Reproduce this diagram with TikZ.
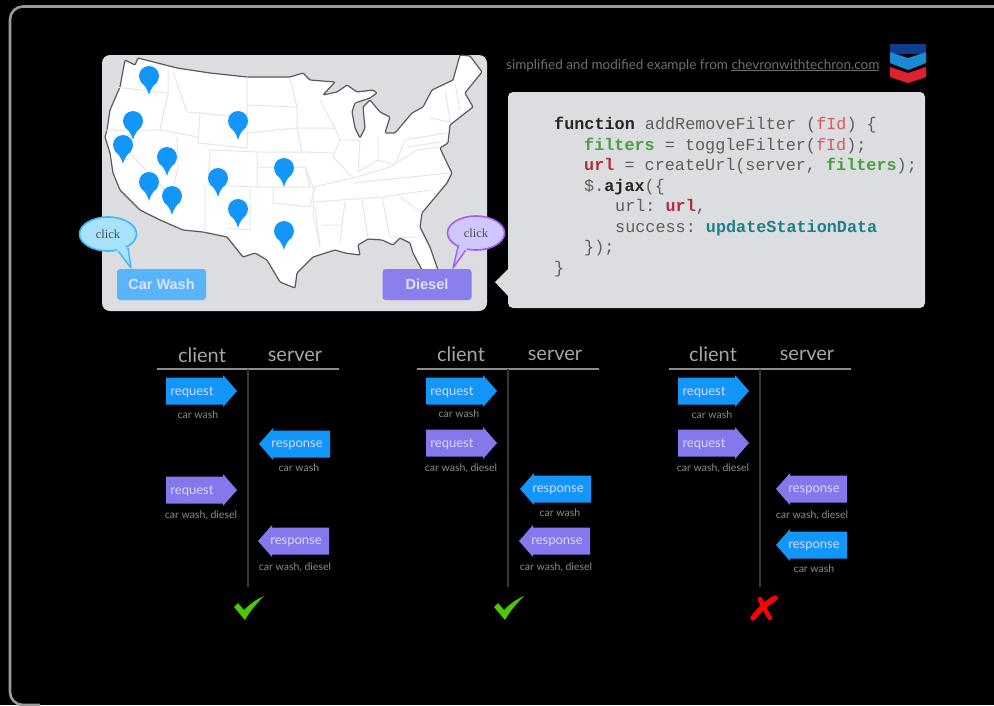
\documentclass[tikz,border=0pt]{standalone}
\usepackage{fontspec}
\setmainfont{Lato}
\setmonofont{Liberation Mono}
\newfontfamily\btnfont{Liberation Sans}
\newfontfamily\clickfont{Liberation Serif}
\usetikzlibrary{shapes.geometric}
\definecolor{panel}{HTML}{DCDDE0}
\definecolor{bluea}{HTML}{1296FA}
\definecolor{purpa}{HTML}{8577EC}
\definecolor{codegray}{HTML}{5E5E5E}
\definecolor{codered}{HTML}{B03038}
\definecolor{codepink}{HTML}{D85A5A}
\definecolor{codegreen}{HTML}{4AA040}
\definecolor{codeteal}{HTML}{1F7F88}
\definecolor{subgray}{HTML}{8C8C8C}
\definecolor{headgray}{HTML}{A6A6A6}
\definecolor{bubL}{HTML}{A8E2FF}
\definecolor{bubLd}{HTML}{3AB8F8}
\definecolor{bubR}{HTML}{CFC8FF}
\definecolor{bubRd}{HTML}{A45CF5}
\definecolor{okgreen}{HTML}{4CC800}
\definecolor{logoblue}{HTML}{1A8AD4}
\definecolor{logonavy}{HTML}{0F3C8C}
\definecolor{logored}{HTML}{E0202F}
\definecolor{stateline}{HTML}{E6E6E6}
\tikzset{
  codeline/.style={anchor=base west,inner sep=0pt,font=\ttfamily\fontsize{16.8}{17}\selectfont,text=codegray},
  subtext/.style={inner sep=0pt,font=\fontsize{10.5}{11}\selectfont,text=subgray},
  head/.style={inner sep=0pt,font=\fontsize{20}{22}\selectfont,text=headgray},
  arrowtext/.style={inner sep=0pt,font=\fontsize{13}{14}\selectfont,text=white!85!blue},
  btn/.style={rounded corners=3pt,minimum height=31pt,minimum width=89pt,inner sep=0pt,text=white!88!blue,font=\btnfont\fontsize{14.5}{16}\selectfont\bfseries},
  bubble/.style={ellipse,minimum width=57pt,minimum height=34pt,inner sep=0pt,line width=1.6pt,font=\clickfont\fontsize{12.5}{13}\selectfont,text=black!70},
  state/.style={draw=stateline,line width=1pt,line join=round},
  rule/.style={draw=headgray!85!black,line width=1.3pt},
  axisline/.style={draw=black!78,line width=1.5pt},
  pin/.style={fill=bluea,draw=none}
}
% request arrow: name, left x, centre y, colour, text
\newcommand{\reqarrow}[5]{%
  \fill[#4] (#2,#3-13.5) -- (#2+57,#3-13.5) -- (#2+57,#3-16) -- (#2+71,#3) -- (#2+57,#3+16) -- (#2+57,#3+13.5) -- (#2,#3+13.5) -- cycle;
  \node[arrowtext] (#1) at (#2+26,#3+1) {#5};}
% response arrow: name, tip x, centre y, colour, text
\newcommand{\resparrow}[5]{%
  \fill[#4] (#2+71,#3-13.5) -- (#2+14,#3-13.5) -- (#2+14,#3-16) -- (#2,#3) -- (#2+14,#3+16) -- (#2+14,#3+13.5) -- (#2+71,#3+13.5) -- cycle;
  \node[arrowtext] (#1) at (#2+38,#3+1) {#5};}
\newcommand{\mapin}[2]{%
  \fill[pin] (#1,#2) circle[radius=10];
  \fill[pin] (#1-8,#2+6) .. controls (#1-4,#2+10) and (#1-2,#2+12) .. (#1,#2+19) .. controls (#1+2,#2+12) and (#1+4,#2+10) .. (#1+8,#2+6) -- cycle;}
\newcommand{\checkmk}[1]{%
  \fill[okgreen] (#1-14,607) -- (#1-10,603) -- (#1-4,610) .. controls (#1+3,603) and (#1+9,599) .. (#1+16,596) .. controls (#1+9,603) and (#1+2,611) .. (#1-3,620) -- cycle;}
\begin{document}
\begin{tikzpicture}[x=1pt,y=-1pt]
\useasboundingbox (0,0) rectangle (994,705);
\fill[black] (0,0) rectangle (994,705);
% outer frame
\begin{scope}
\clip (0,0) rectangle (994,705);
\draw[draw=black!22!white!78!black,line width=2.6pt,rounded corners=13pt] (1010,6.5) -- (10,6.5) -- (10,705) -- (40,705);
\end{scope}

% map panel
\fill[panel,rounded corners=8pt] (102,55) rectangle (487,311);
\draw[fill=white,draw=black!65,line width=1.2pt,line join=round,rounded corners=1pt]
  (125,60) -- (135,65) -- (138,58) -- (177,68) -- (210,73) -- (247,77) -- (290,77) -- (303,73) -- (310,80) -- (335,82) -- (323,95) -- (337,92) -- (347,85) -- (357,92) -- (373,90) -- (377,93) -- (370,98) -- (355,103) -- (352,112) -- (355,128) -- (360,138) -- (365,128) -- (363,107) -- (370,100) -- (380,112) -- (390,117) -- (385,133) -- (395,133) -- (412,113) -- (423,107) -- (432,90) -- (453,80) -- (460,55) -- (470,56) -- (482,72) -- (465,93) -- (473,107) -- (450,125) -- (448,143) -- (440,148) -- (447,163) -- (452,173) -- (447,183) -- (422,213) -- (420,227) -- (430,247) -- (438,270) -- (422,270) -- (413,253) -- (410,243) -- (400,238) -- (393,245) -- (382,240) -- (368,239) -- (358,245) -- (360,255) -- (345,253) -- (335,250) -- (313,257) -- (297,273) -- (295,288) -- (280,282) -- (267,260) -- (255,253) -- (243,257) -- (227,237) -- (203,232) -- (183,230) -- (160,220) -- (140,210) -- (120,190) -- (113,173) -- (110,153) -- (105,137) -- (107,130) -- (110,110) -- (120,87) -- cycle;
% state lines
\draw[state] (115,87) -- (167,93);
\draw[state] (168,70) -- (168,93) -- (160,130) (173,72) -- (187,112) -- (200,113) -- (198,143);
\draw[state] (106,130) -- (160,130) -- (198,137);
\draw[state] (133,130) -- (130,153) -- (170,195) -- (172,213);
\draw[state] (177,137) -- (178,167) -- (172,195);
\draw[state] (198,143) -- (247,148) -- (247,77) (200,113) -- (247,118);
\draw[state] (210,150) -- (208,185) -- (257,187) -- (257,152) -- (210,150);
\draw[state] (205,185) -- (205,232) (250,187) -- (250,230) -- (227,228);
\draw[state] (247,105) -- (297,107) -- (290,78);
\draw[state] (247,133) -- (297,128) -- (302,152) -- (257,152) (257,167) -- (305,167) -- (310,187) -- (257,187);
\draw[state] (273,188) -- (273,203) -- (310,207) -- (315,187) (315,207) -- (320,247);
\draw[state] (297,107) -- (297,128) -- (335,128) -- (320,100);
\draw[state] (335,128) -- (340,140) -- (360,140) (302,152) -- (333,153) (340,140) -- (333,157) -- (353,178) -- (313,187) -- (305,167);
\draw[state] (360,140) -- (358,172) (378,137) -- (378,160) -- (358,172) (378,160) -- (395,165) -- (405,140) -- (447,133) (408,147) -- (440,142);
\draw[state] (353,178) -- (390,167) -- (417,150) -- (440,147);
\draw[state] (445,90) -- (450,120) (455,83) -- (460,110) (430,118) -- (450,122);
\draw[state] (313,187) -- (313,213) -- (320,247) (322,225) -- (340,225);
\draw[state] (353,183) -- (450,173) (313,202) -- (383,197) -- (430,190) (345,202) -- (340,242) (362,200) -- (368,238) (382,197) -- (390,237) -- (415,237) (400,197) -- (422,213);
% pins
\mapin{149}{76}\mapin{133}{121}\mapin{123}{145}\mapin{167}{157}\mapin{149}{182}\mapin{172}{196}\mapin{218}{178}\mapin{238}{209}\mapin{284}{168}\mapin{284}{231}\mapin{238}{121}

% buttons
\node[btn,fill=bluea!70!white] (carwash) at (161.5,284.5) {Car Wash};
\node[btn,fill=purpa!95!white] (diesel) at (427,284.5) {Diesel};

% click bubbles
\coordinate (tailL) at (131,268);
\coordinate (tailR) at (453,268);
\fill[fill=bubL,draw=bubLd,line width=1.4pt,line join=round] (116,248) -- (tailL) -- (128,248) -- cycle;
\fill[fill=bubR,draw=bubRd,line width=1.4pt,line join=round] (458,247) -- (tailR) -- (468,247) -- cycle;
\node[bubble,draw=bubLd,fill=bubL] (clickL) at (108,234) {click};
\node[bubble,draw=bubRd,fill=bubR] (clickR) at (476,233) {click};
\fill[bubL] (117,247) rectangle (127,251);
\fill[bubR] (459,246) rectangle (467,250);

% caption and logo
\node[inner sep=0pt,anchor=base west,text=black!38!white!70!black,font=\fontsize{13.5}{15}\selectfont] (caption) at (506,69) {simplified and modified example from \underline{chevronwithtechron.com}};
\fill[logonavy] (890,44) -- (926,44) -- (926,54) -- (890,54) -- cycle;
\fill[logoblue] (890,52) -- (908,58) -- (926,52) -- (926,63) -- (908,70) -- (890,63) -- cycle;
\fill[logored] (890,67) -- (908,73) -- (926,67) -- (926,77) -- (908,83) -- (890,77) -- cycle;

% code panel
\fill[panel] (509,268) -- (495,282) -- (509,297) -- cycle;
\fill[panel,rounded corners=5pt] (508,92) rectangle (925,308);
\node[codeline] (c1) at (554,129) {\textcolor{black!85}{\bfseries function} addRemoveFilter (\textcolor{codepink}{fId}) \{};
\node[codeline] (c2) at (584,150) {\textcolor{codegreen}{\bfseries filters} = toggleFilter(\textcolor{codepink}{fId});};
\node[codeline] (c3) at (584,170) {\textcolor{codered}{\bfseries url} = createUrl(server, \textcolor{codegreen}{\bfseries filters});};
\node[codeline] (c4) at (584,191) {\$.\textcolor{black!85}{\bfseries ajax}(\{};
\node[codeline] (c5) at (615,211) {url: \textcolor{codered}{\bfseries url},};
\node[codeline] (c6) at (615,232) {success: \textcolor{codeteal}{\bfseries updateStationData}};
\node[codeline] (c7) at (584,252) {\});};
\node[codeline] (c8) at (554,273) {\}};

% column 1
\node[head] (cl1) at (202,355) {client};
\node[head] (sv1) at (295,356) {server};
\draw[rule] (157,369) -- (339,369);
\coordinate (v1a) at (248,369); \coordinate (v1b) at (248,587);
\draw[axisline] (v1a) -- (v1b);
\reqarrow{a1}{166}{391}{bluea}{request}
\node[subtext] (s1) at (198,415) {car wash};
\resparrow{a2}{259}{444}{bluea}{response}
\node[subtext] (s2) at (299,468) {car wash};
\reqarrow{a3}{166}{490}{purpa}{request}
\node[subtext] (s3) at (201,515) {car wash, diesel};
\resparrow{a4}{258}{541}{purpa}{response}
\node[subtext] (s4) at (295,567) {car wash, diesel};
\checkmk{248}

% column 2
\node[head] (cl2) at (461,354) {client};
\node[head] (sv2) at (555,355) {server};
\draw[rule] (417,369) -- (599,369);
\coordinate (v2a) at (508,369); \coordinate (v2b) at (508,587);
\draw[axisline] (v2a) -- (v2b);
\reqarrow{b1}{426}{391}{bluea}{request}
\node[subtext] (t1) at (459,414) {car wash};
\reqarrow{b2}{426}{443}{purpa}{request}
\node[subtext] (t2) at (461,468) {car wash, diesel};
\resparrow{b3}{520}{489}{bluea}{response}
\node[subtext] (t3) at (560,513) {car wash};
\resparrow{b4}{519}{541}{purpa}{response}
\node[subtext] (t4) at (556,567) {car wash, diesel};
\checkmk{508}

% column 3
\node[head] (cl3) at (713,354) {client};
\node[head] (sv3) at (807,355) {server};
\draw[rule] (669,369) -- (851,369);
\coordinate (v3a) at (760,369); \coordinate (v3b) at (760,587);
\draw[axisline] (v3a) -- (v3b);
\reqarrow{d1}{678}{391}{bluea}{request}
\node[subtext] (u1) at (712,415) {car wash};
\reqarrow{d2}{678}{443}{purpa}{request}
\node[subtext] (u2) at (713,468) {car wash, diesel};
\resparrow{d3}{776}{489}{purpa}{response}
\node[subtext] (u3) at (812,515) {car wash, diesel};
\resparrow{d4}{776}{545}{bluea}{response}
\node[subtext] (u4) at (814,569) {car wash};
% cross
\draw[red,line width=5.5pt,line cap=round] (753,618) .. controls (760,609) and (767,603) .. (775,598);
\draw[red,line width=4.5pt,line cap=round] (760,599) .. controls (763,606) and (766,612) .. (770,618);
\end{tikzpicture}
\end{document}
